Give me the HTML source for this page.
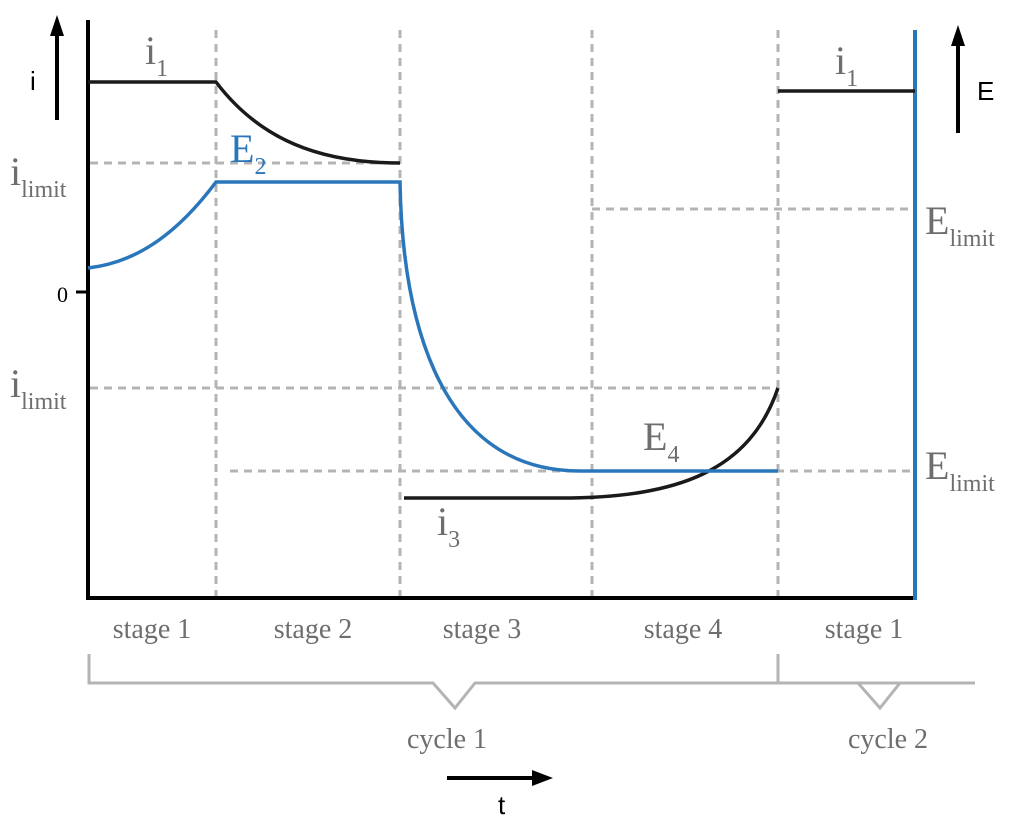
<!DOCTYPE html>
<html><head><meta charset="utf-8"><style>
html,body{margin:0;padding:0;background:#fff;}
svg{display:block}
.g{fill:#6e6e6e;font-family:"Liberation Serif",serif;}
.s{font-size:28px;}
</style></head><body>
<svg width="1024" height="816" viewBox="0 0 1024 816" xmlns="http://www.w3.org/2000/svg">
<g stroke="#b4b4b4" stroke-width="3" stroke-dasharray="8,6" fill="none">
<line x1="216" y1="30" x2="216" y2="598"/>
<line x1="400" y1="30" x2="400" y2="598"/>
<line x1="592" y1="30" x2="592" y2="598"/>
<line x1="778" y1="30" x2="778" y2="598"/>
<line x1="90" y1="163" x2="400" y2="163"/>
<line x1="90" y1="388" x2="778" y2="388"/>
<line x1="592" y1="209" x2="915" y2="209"/>
<line x1="230" y1="471" x2="915" y2="471"/>
</g>
<line x1="88" y1="20" x2="88" y2="600" stroke="#000" stroke-width="4"/>
<line x1="86" y1="598" x2="917" y2="598" stroke="#000" stroke-width="4"/>
<line x1="76" y1="292" x2="88" y2="292" stroke="#000" stroke-width="3"/>
<line x1="915" y1="30" x2="915" y2="600" stroke="#2a76bb" stroke-width="4"/>
<path d="M88,82 L216,82 C260,140 320,163 400,163" stroke="#1a1a1a" stroke-width="3.5" fill="none"/>
<path d="M404,498 L560,498 C680,498 750,470 778,388" stroke="#1a1a1a" stroke-width="3.5" fill="none"/>
<line x1="778" y1="91" x2="915" y2="91" stroke="#1a1a1a" stroke-width="3.5"/>
<path d="M88,268 C140,262 180,230 216,182 L400,182 C402,300 430,471 580,471 L778,471" stroke="#2a76bb" stroke-width="3.5" fill="none"/>
<line x1="57" y1="120" x2="57" y2="32" stroke="#000" stroke-width="4"/>
<path d="M50,36 L57,15 L64,36 z" fill="#000"/>
<line x1="958" y1="133" x2="958" y2="42" stroke="#000" stroke-width="4"/>
<path d="M951,46 L958,25 L965,46 z" fill="#000"/>
<line x1="447" y1="778" x2="536" y2="778" stroke="#000" stroke-width="4"/>
<path d="M532,770 L553,778 L532,786 z" fill="#000"/>
<text x="30" y="90" font-family="Liberation Sans,sans-serif" font-size="26">i</text>
<text x="977" y="100" font-family="Liberation Sans,sans-serif" font-size="26">E</text>
<text x="498" y="814" font-family="Liberation Sans,sans-serif" font-size="26">t</text>
<text x="57" y="302" font-family="Liberation Serif,serif" font-size="22">0</text>
<text class="g" x="145" y="64" font-size="40">i<tspan font-size="24" dy="12">1</tspan></text>
<text class="g" x="835" y="74" font-size="40">i<tspan font-size="24" dy="12">1</tspan></text>
<text x="230" y="162" font-family="Liberation Serif,serif" font-size="40" fill="#2a76bb">E<tspan font-size="24" dy="12">2</tspan></text>
<text class="g" x="10" y="185" font-size="40">i<tspan font-size="24" dy="12">limit</tspan></text>
<text class="g" x="10" y="397" font-size="40">i<tspan font-size="24" dy="12">limit</tspan></text>
<text class="g" x="925" y="234" font-size="40">E<tspan font-size="24" dy="12">limit</tspan></text>
<text class="g" x="925" y="479" font-size="40">E<tspan font-size="24" dy="12">limit</tspan></text>
<text class="g" x="643" y="450" font-size="40">E<tspan font-size="24" dy="12">4</tspan></text>
<text class="g" x="437" y="535" font-size="40">i<tspan font-size="24" dy="12">3</tspan></text>
<g class="g s" text-anchor="middle">
<text x="152" y="638">stage 1</text>
<text x="313" y="638">stage 2</text>
<text x="482" y="638">stage 3</text>
<text x="683" y="638">stage 4</text>
<text x="864" y="638">stage 1</text>
<text x="447" y="748">cycle 1</text>
<text x="888" y="748">cycle 2</text>
</g>
<path d="M89,654 L89,683 L433,683 L455,708 L475,683 L975,683" stroke="#b4b4b4" stroke-width="3" fill="none"/>
<path d="M778,654 L778,683 L858,683 L880,708 L900,683" stroke="#b4b4b4" stroke-width="3" fill="none"/>
</svg>
</body></html>
